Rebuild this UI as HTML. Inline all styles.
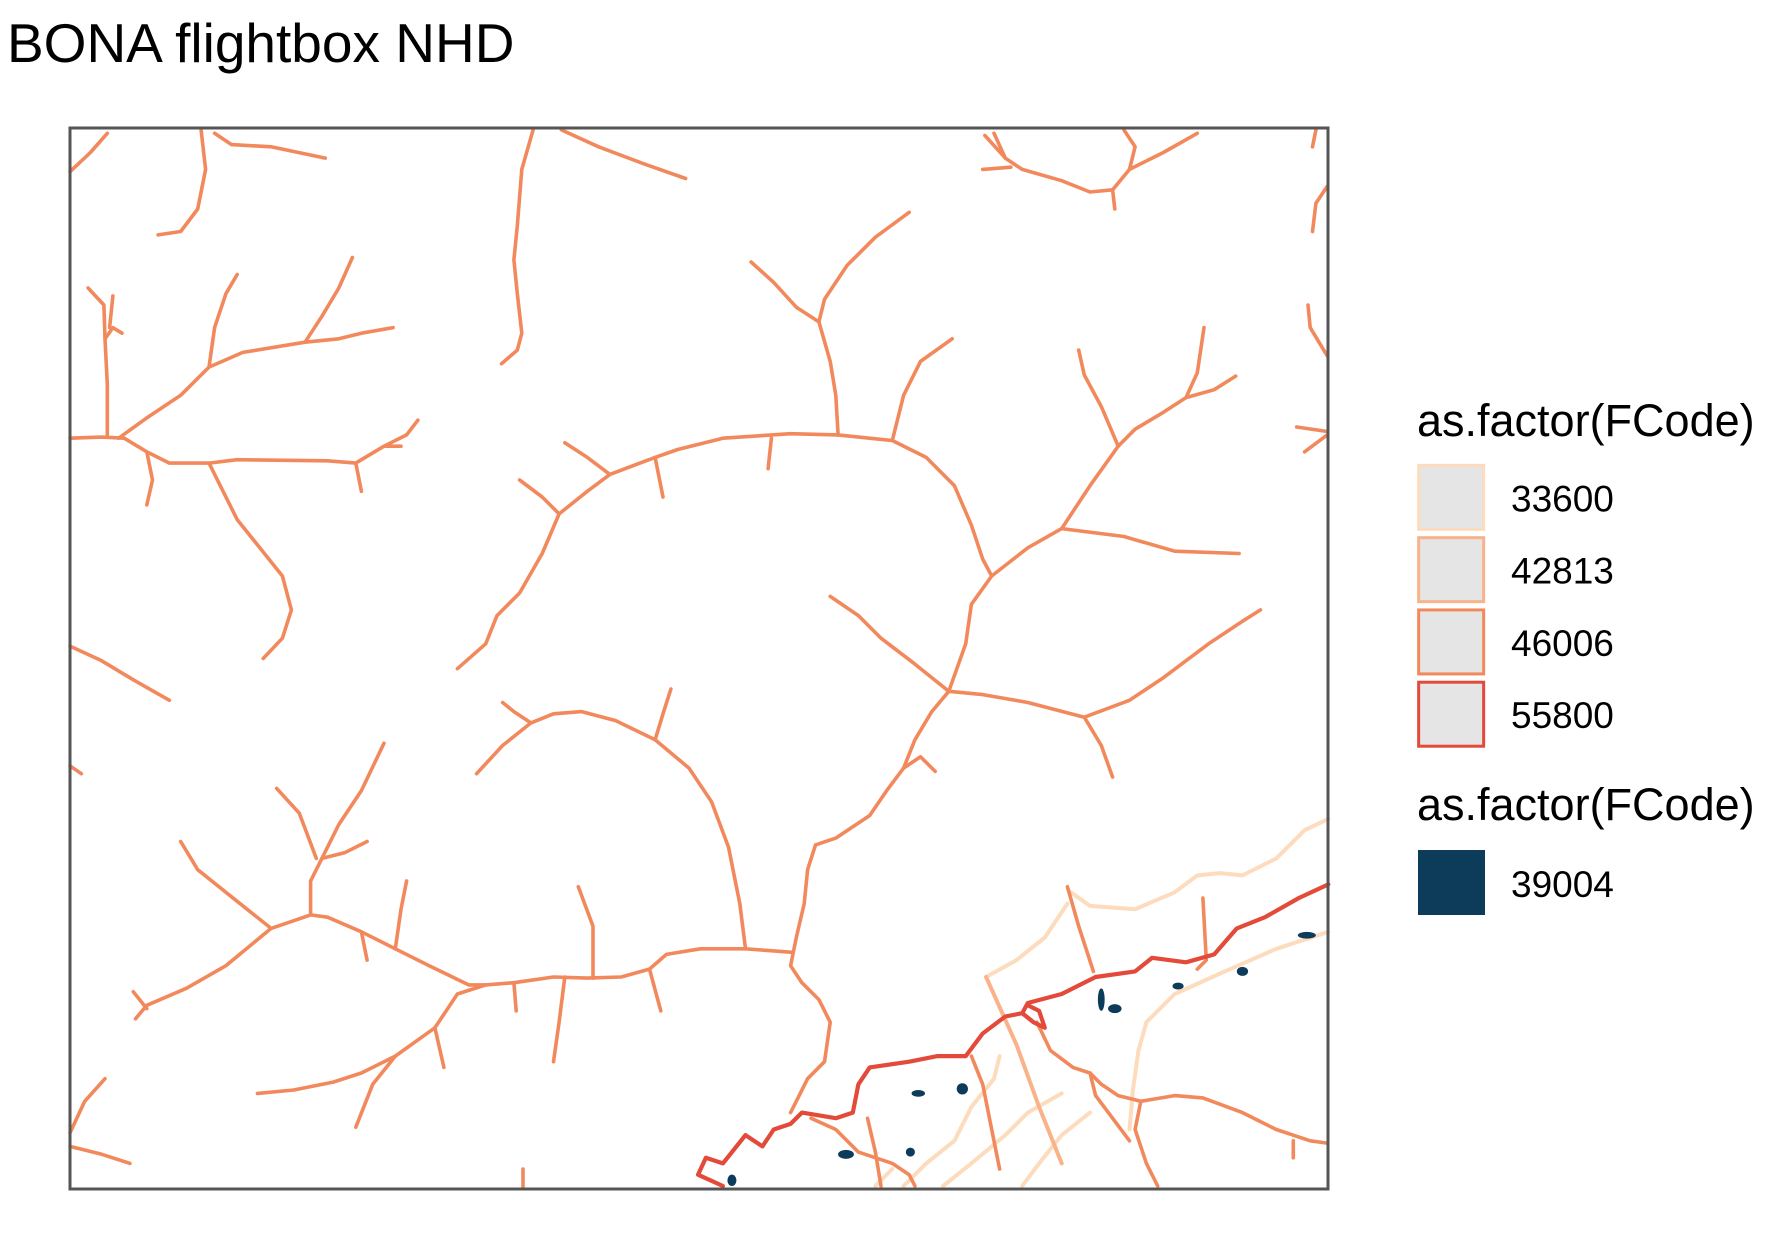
<!DOCTYPE html>
<html><head><meta charset="utf-8"><style>
html,body{margin:0;padding:0;background:#fff;width:1771px;height:1243px;overflow:hidden}
svg{display:block;font-family:"Liberation Sans",Arial,sans-serif}
</style></head><body>
<svg id="map" width="1771" height="1243" viewBox="0 0 1771 1243">
<text x="7" y="62" font-size="55" fill="#000">BONA flightbox NHD</text>
<g id="lines"></g>
<g id="water"></g>
<rect x="70" y="128" width="1258" height="1061" fill="none" stroke="#555" stroke-width="3"/>
<g>
<text x="1417" y="436" font-size="45">as.factor(FCode)</text>
<g id="legkeys"></g>
<text x="1417" y="820" font-size="45">as.factor(FCode)</text>
<rect x="1418" y="850" width="67" height="65" fill="#0d3b5a"/>
<text x="1511" y="897" font-size="37">39004</text>
</g>
</svg>
<script>
const S=1.1295;
function sx(v){return v*S}
function sy(v){return v*S}
const codes=["33600","42813","46006","55800"];
const colors=["#fddbbd","#f8b38a","#f2895c","#e34a3a"];
const widths=[4,4,3.6,4.2];
const lines46006=[
[[62,388],[90,387],[110,388],[130,400],[150,410],[185,410],[210,407],[290,408],[315,410],[340,395],[360,385],[370,372]],
[[105,388],[130,370],[160,350],[185,325],[215,312],[270,303],[300,300],[320,295],[348,290]],
[[185,325],[190,290],[200,260],[210,243]],
[[270,303],[285,280],[300,255],[312,228]],
[[95,387],[95,340],[93,300],[100,290],[108,295]],
[[93,300],[92,270],[78,255]],[[97,290],[100,262]],
[[130,400],[135,425],[130,447]],
[[185,410],[200,440],[210,460],[230,485],[250,510],[258,540],[250,565],[233,583]],
[[315,410],[320,435]],[[340,395],[355,395]],
[[62,152],[80,135],[95,118]],
[[178,115],[182,150],[175,185],[160,205],[140,208]],
[[190,118],[205,128],[240,130],[288,140]],
[[472,115],[462,150],[458,200],[455,230],[458,260],[462,295],[458,310],[444,322]],
[[497,115],[530,130],[570,145],[607,158]],
[[742,385],[700,384],[640,388],[600,398],[580,405],[540,420],[520,435],[495,455],[480,490],[460,525],[440,545],[430,570],[405,592]],
[[742,385],[790,390],[820,405],[845,430],[860,465],[870,495],[878,510],[860,535],[855,570],[840,612],[825,630],[810,655],[800,680],[785,700],[770,722],[740,742],[722,748],[715,770],[712,800],[705,830],[700,855],[710,870],[725,885],[735,905],[730,940],[715,955],[705,975],[700,985]],
[[495,455],[480,440],[460,425]],[[540,420],[520,405],[500,392]],[[580,405],[587,440]],[[683,388],[680,415]],
[[742,385],[740,350],[735,320],[725,285],[705,272],[685,250],[665,232]],
[[725,285],[730,265],[750,235],[775,210],[805,188]],
[[790,390],[800,350],[815,320],[843,300]],
[[878,510],[910,485],[940,468],[995,475],[1040,488],[1097,490]],
[[940,468],[965,430],[990,395],[1005,380],[1030,365],[1050,352],[1060,330],[1066,290]],
[[1050,352],[1075,345],[1094,333]],[[990,395],[975,360],[960,332],[955,310]],
[[840,612],[870,615],[910,622],[960,635],[1000,620],[1030,600],[1070,570],[1100,550],[1116,540]],
[[960,635],[975,660],[985,688]],
[[840,612],[810,588],[780,565],[760,545],[735,528]],
[[800,680],[815,670],[828,683]],
[[700,843],[660,840],[620,840],[590,845],[575,858],[550,865],[520,866],[490,865],[455,870],[430,872],[415,872],[380,855],[350,840],[320,825],[290,812],[275,810],[240,822],[200,855],[165,875],[130,890],[120,902]],
[[660,840],[655,800],[645,750],[630,710],[610,680],[580,655],[545,638],[515,630],[490,632],[470,640],[445,660],[422,685]],
[[470,640],[455,630],[445,622]],[[580,655],[587,632],[594,610]],
[[275,810],[275,780],[285,760],[300,730],[320,700],[340,658]],
[[285,760],[305,755],[325,745]],[[280,760],[265,720],[245,698]],
[[240,822],[200,790],[175,770],[160,745]],
[[525,866],[525,820],[512,785]],[[350,840],[355,805],[360,780]],[[455,870],[457,895]],[[575,858],[585,895]],
[[500,865],[495,905],[490,940]],
[[430,872],[405,880],[385,910],[350,935],[320,950],[295,958],[260,965],[228,968]],
[[385,910],[393,945]],[[350,935],[330,960],[315,998]],[[118,878],[130,893]],[[320,825],[325,850]],
[[62,572],[90,585],[120,603],[150,620]],[[62,678],[72,685]],
[[62,1003],[75,975],[93,955]],[[62,1015],[90,1022],[115,1030]],
[[1165,115],[1162,130]],[[1175,165],[1165,180],[1162,205]],[[1158,270],[1160,290],[1175,315]],
[[1148,378],[1175,382]],[[1175,385],[1155,400]],
[[872,120],[890,140],[905,150],[940,160],[965,170],[985,168],[1000,150],[1030,135],[1060,118]],
[[985,168],[987,185]],[[1000,150],[1005,130],[995,115]],[[870,150],[895,148]],[[880,118],[890,140]],
[[860,935],[870,960],[878,1000],[885,1035]],
[[918,905],[930,930],[950,945],[965,950],[975,960],[990,970],[1010,975],[1040,970],[1065,972],[1100,985],[1130,1000],[1160,1010],[1175,1012]],
[[1010,975],[1005,1000],[1015,1030],[1025,1050]],[[965,950],[970,970],[1000,1010]],
[[945,785],[955,820],[968,860]],[[1065,795],[1068,850],[1060,858]],
[[768,990],[775,1020],[780,1050]],[[1145,1010],[1145,1025]],[[463,1035],[463,1052]],
[[718,990],[740,1000],[760,1020],[790,1030],[805,1040],[810,1050]]
];
const lines55800=[
[[1176,783],[1150,795],[1120,812],[1095,822],[1075,845],[1050,852],[1020,848],[1005,860],[970,865],[940,880],[910,888],[905,897],[890,900],[870,915],[855,935],[830,935],[805,940],[770,945],[760,960],[755,985],[740,990],[710,985],[700,995],[685,1000],[675,1015],[660,1005],[640,1030],[625,1025],[618,1040],[640,1050]],
[[905,897],[915,905],[925,910],[920,895],[910,890]]
];
const lines42813=[
[[873,865],[900,925],[920,980],[940,1030]]
];
const lines33600=[
[[1176,725],[1155,735],[1130,760],[1100,775],[1080,773],[1060,775],[1040,790],[1005,805],[965,802],[948,790]],
[[1176,825],[1130,840],[1080,862],[1040,880],[1015,905],[1008,930],[1003,965],[1000,1000]],
[[940,968],[910,985],[890,1005],[860,1030],[835,1050]],
[[965,985],[940,1005],[920,1030],[905,1050]],
[[885,935],[880,955],[860,980],[845,1010],[820,1030],[800,1050]],
[[790,1035],[775,1050]],[[873,865],[900,850],[925,830],[945,800]]
];
const water=[[1157,828,8,3],[1100,860,5,4],[1043,873,5,3],[975,885,3,10],[987,893,6,4],[852,964,5,5],[813,968,6,3],[749,1022,7,4],[806,1020,4,4],[648,1045,4,5]];
const ns="http://www.w3.org/2000/svg";
const gl=document.getElementById('lines');
function drawSet(set,ci,name){
 set.forEach(function(pts){
  const p=document.createElementNS(ns,'polyline');
  p.setAttribute('points',pts.map(function(q){return sx(q[0]).toFixed(1)+','+sy(q[1]).toFixed(1)}).join(' '));
  p.setAttribute('fill','none');p.setAttribute('stroke',colors[ci]);
  p.setAttribute('stroke-width',widths[ci]);p.setAttribute('stroke-linejoin','round');p.setAttribute('stroke-linecap','round');
  
  
  gl.appendChild(p);
 });
}
drawSet(lines33600,0,'flowline-33600');
drawSet(lines42813,1,'flowline-42813');
drawSet(lines46006,2,'flowline-46006');
drawSet(lines55800,3,'flowline-55800');
const gw=document.getElementById('water');
water.forEach(function(w){
 const e=document.createElementNS(ns,'ellipse');
 e.setAttribute('cx',sx(w[0]));e.setAttribute('cy',sy(w[1]));
 e.setAttribute('rx',w[2]*S);e.setAttribute('ry',w[3]*S);e.setAttribute('fill','#0d3b5a');
 
 
 gw.appendChild(e);
});
const lk=document.getElementById('legkeys');
codes.forEach(function(c,i){
 const y=sy(412+i*64);
 const r=document.createElementNS(ns,'rect');
 r.setAttribute('x',sx(1256));r.setAttribute('y',y);r.setAttribute('width',65);r.setAttribute('height',64);
 r.setAttribute('fill','#e5e5e5');r.setAttribute('stroke',colors[i]);r.setAttribute('stroke-width',3);
 
 
 lk.appendChild(r);
 const t=document.createElementNS(ns,'text');
 t.setAttribute('x',1511);t.setAttribute('y',y+46);t.setAttribute('font-size',37);t.textContent=c;
 
 
 lk.appendChild(t);
});
</script>
</body></html>
